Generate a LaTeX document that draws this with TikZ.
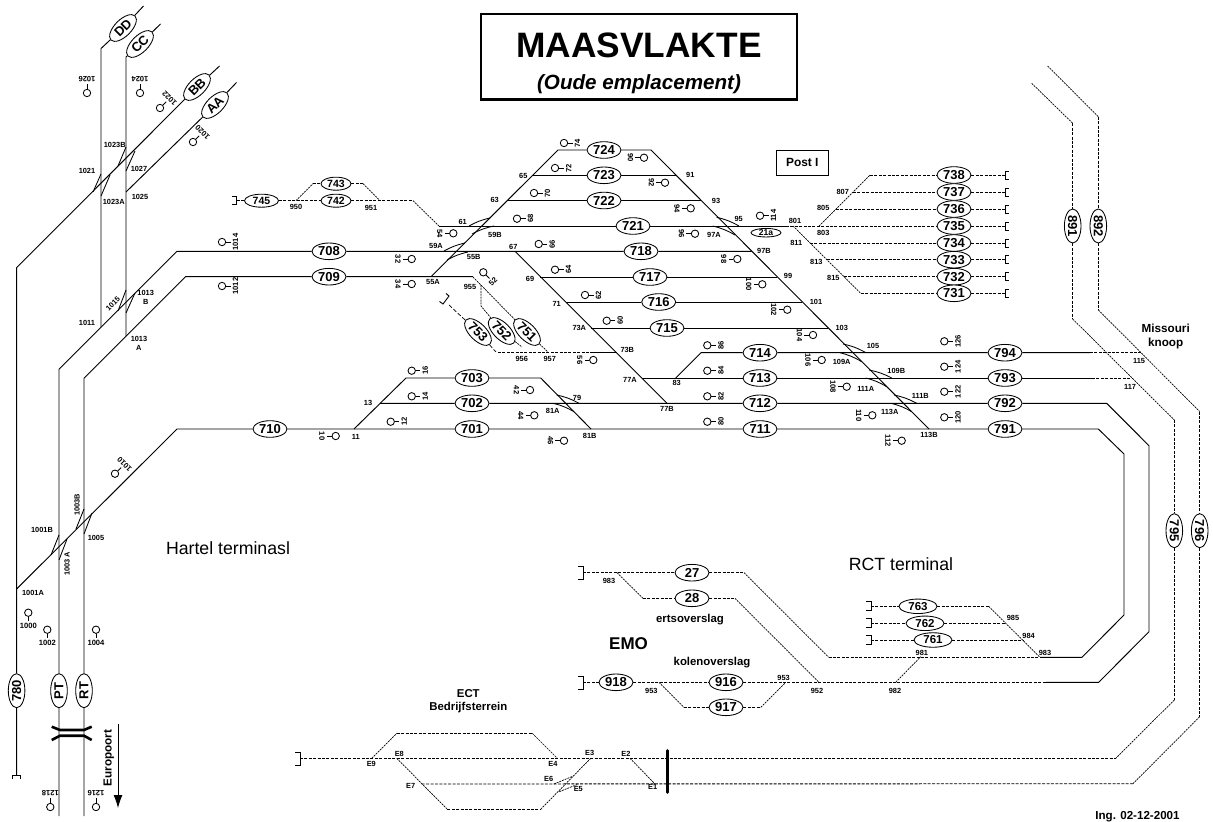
\documentclass[tikz,border=0pt]{standalone}
\usepackage{fontspec}
\setmainfont{Liberation Sans}
\usetikzlibrary{shapes.geometric,arrows.meta}
\newcommand{\fsz}[1]{\fontsize{#1}{#1}\selectfont}
\tikzset{
  trk/.style={line width=0.95pt,line join=miter},
  dsh/.style={line width=0.9pt,dash pattern=on 3pt off 1.4pt},
  fin/.style={line width=0.7pt,dash pattern=on 2pt off 0.9pt},
  sw/.style={line width=0.85pt},
  el/.style={ellipse,draw,line width=0.85pt,fill=white,inner sep=0pt,minimum width=34pt,minimum height=16.6pt,font=\bfseries\fsz{13}},
  els/.style={el,minimum width=30pt,minimum height=13pt,font=\bfseries\fsz{10.5}},
  elm/.style={el,minimum width=38pt,minimum height=14.5pt,font=\bfseries\fsz{11.5}},
  lb/.style={inner sep=0pt,font=\bfseries\fsz{7.4}},
  sc/.style={circle,draw,line width=0.85pt,fill=white,inner sep=0pt,minimum size=7.4pt},
  st/.style={inner sep=0pt,font=\bfseries\fsz{7.6}},
  txt/.style={inner sep=0pt,font=\bfseries\fsz{11.4}},
  big/.style={inner sep=0pt,font=\fsz{17.7}},
  bx/.style={draw,line width=0.9pt,inner sep=0pt},
  term/.style={line width=0.9pt}
}
\begin{document}
\begin{tikzpicture}[x=1pt,y=-1pt]
\useasboundingbox (0,0) rectangle (1213,822);
% ---------- titles
\node[draw,line width=2.4pt,minimum width=316pt,minimum height=85.5pt,inner sep=0pt] (title) at (639,56.7) {};
\node[inner sep=0pt,font=\bfseries\fsz{35.3}] (t1) at (639,45) {MAASVLAKTE};
\node[inner sep=0pt,font=\bfseries\itshape\fsz{20.6}] (t2) at (639,84) {(Oude emplacement)};
\node[bx,minimum width=51.5pt,minimum height=25pt,font=\bfseries\fsz{11.9}] (post) at (802.3,162.5) {Post I};
\node[big] (hartel) at (228,548) {Hartel terminasl};
\node[big] (rct) at (901,564) {RCT terminal};
\node[inner sep=0pt,font=\bfseries\fsz{17}] (emo) at (628.6,644) {EMO};
\node[txt] (erts) at (690,620) {ertsoverslag};
\node[txt] (kolen) at (712,663) {kolenoverslag};
\node[txt] (ect) at (468.3,693.3) {ECT};
\node[txt] (bedr) at (468.3,707.7) {Bedrijfsterrein};
\node[inner sep=0pt,font=\bfseries\fsz{11.7}] (miss) at (1165.7,328) {Missouri};
\node[inner sep=0pt,font=\bfseries\fsz{11.7}] (knoop) at (1165.7,343) {knoop};
\node[inner sep=0pt,font=\bfseries\fsz{11.6}] (ing) at (1137.5,816.7) {Ing. 02-12-2001};
\node[inner sep=0pt,rotate=90,font=\bfseries\fsz{11.7}] (euro) at (108.7,758) {Europoort};
% ---------- track ellipses
\foreach \n/\x/\y/\t in {DD/123/28/DD,CC/140/44/CC,BB/197/87/BB,AA/215/105/AA}
  \node[el,rotate=45] (n\n) at (\x,\y) {\t};
\foreach \n/\x/\y in {708/329/251.3,709/329/276.7,710/270/429,724/604/150,723/604/175.3,722/604/200.5,721/633/226,718/641/251.3,717/650/277,716/658.7/302,715/667/328,714/760/352.7,713/760/378,712/760/403.3,711/760/429,703/472/378,702/472/403.3,701/472/429,794/1005/352.7,793/1005/378,792/1005/403.3,791/1005/429,738/954/175,737/954/192,736/954/209,735/954/226,734/954/243,733/954/259.7,732/954/276.7,731/954/293.3,27/692/572.7,28/692/598.3,918/616/682.3,916/726/682.3,917/726/707.3}
  \node[el] (n\n) at (\x,\y) {\n};
\foreach \n/\x/\y in {745/261.5/200.7}
  \node[el,minimum height=13pt,font=\bfseries\fsz{10.5}] (n\n) at (\x,\y) {\n};
\foreach \n/\x/\y in {742/336/200.7,743/336/183.7}
  \node[els] (n\n) at (\x,\y) {\n};
\foreach \n/\x/\y in {763/918/606.3,762/925/623.3,761/933/640}
  \node[elm] (n\n) at (\x,\y) {\n};
\foreach \n/\x/\y in {753/478/332,752/501.7/331,751/527/332}
  \node[el,rotate=-45] (n\n) at (\x,\y) {\n};
\foreach \n/\x/\y in {780/16.6/690.7,PT/59/690.7,RT/84/690.7}
  \node[el,rotate=90] (n\n) at (\x,\y) {\n};
\foreach \n/\x/\y in {891/1072.7/226,892/1098.3/226,795/1174.3/530.7,796/1199.7/530.7}
  \node[el,rotate=-90] (n\n) at (\x,\y) {\n};
\node[el,minimum width=30pt,minimum height=8pt,font=\bfseries\fsz{8.5}] (n21a) at (766,232.7) {21a};
% ---------- solid tracks, left side
\draw[trk] (143.5,6) -- (nDD) -- (101,48.5) -- (101,327);
\draw[trk] (160.5,24) -- (nCC) -- (126,57) -- (126,336);
\draw[trk] (219.5,66) -- (nBB) -- (16.6,267.7) -- (n780) -- (16.6,775);
\draw[trk] (236.5,82.5) -- (nAA) -- (126,192);
\draw[term] (12.7,779) -- (12.7,775) -- (20.7,775) -- (20.7,779);
\draw[trk] (59,816) -- (nPT) -- (59,369.3) -- (177,251.3) -- (n708) -- (n718) -- (751.7,251.3);
\draw[trk] (84,816) -- (nRT) -- (84,378.3) -- (185.5,276.7) -- (n709) -- (473,276.7);
\draw[trk] (16.6,589) -- (177,429) -- (n710) -- (n701) -- (n711) -- (n791) -- (1098.3,429) -- (1124,454) -- (1124,615) -- (1082,657.3) -- (1040,657.3);
\draw[trk] (354,429) -- (406,378) -- (n703) -- (540.7,378) -- (591,429);
\draw[trk] (380,403.3) -- (n702) -- (n712) -- (n792) -- (1106.7,403.3) -- (1149,445.7) -- (1149,631.7) -- (1098.7,682.3) -- (1046,682.3);
% ---------- central yard
\draw[trk] (431,276.7) -- (558,150) -- (n724) -- (651,150) -- (929,429);
\draw[trk] (533,175.3) -- (n723) -- (676,175.3);
\draw[trk] (507,200.5) -- (n722) -- (701,200.5);
\draw[trk] (439,226) -- (n721) -- (786,226);
\draw[trk] (515,251.3) -- (667,403.3);
\draw[trk] (540,277) -- (n717) -- (777,277);
\draw[trk] (566,302) -- (n716) -- (802,302);
\draw[trk] (591,328) -- (n715) -- (828,328);
\draw[trk] (590,352) -- (617,352);
\draw[trk] (642,378) -- (n713) -- (n793) -- (1092,378);
\draw[trk] (675.7,378) -- (701,352.7) -- (n714) -- (n794) -- (1090,352.7);
% ---------- switches
\foreach \a/\b/\c/\d in {
  101/174/93/192, 110/175/101/196, 126/147/118/166, 135/151/126/171,
  126/290/118/311, 135/293/126/313, 59/535/51/555, 67/539/59/560,
  84/509/76/529, 92/513/84/534}
  \draw[sw] (\a,\b) -- (\c,\d);
\foreach \a/\b/\c/\d in {
  469/226/490/218, 472/234/494/226, 444/251/465/243, 447/260/468/252,
  716.7/217.3/739/226, 712.7/226/735/235, 843/344/866/352.7, 840/352.7/861.7/361.7,
  869/370/891.7/378, 865.7/378/886.7/386.7, 894/395/916.7/403.3, 891/403.3/911.7/411.7,
  556.7/395/579/403.3, 553/403.3/574/411.7}
  \draw[sw] (\a,\b) to[bend left=8] (\c,\d);
% ---------- dashed upper-left group
\draw[dsh] (237,200.7) -- (n745) -- (n742) -- (413,200.7);
\draw[fin] (413,200.7) -- (439,226);
\draw[dsh] (313,183.7) -- (n743) -- (363,183.7);
\draw[fin] (296,200.7) -- (313,183.7);
\draw[fin] (363,183.7) -- (380,200.7);
\draw[term] (232,196.7) -- (236,196.7) -- (236,204.7) -- (232,204.7);
% ---------- 75x group
\draw[fin] (473,277) -- (n751) -- (548,352);
\draw[dsh] (498,352) -- (590,352);
\draw[fin] (481,285) -- (481,306) -- (n752) -- (522,347);
\draw[fin,dash pattern=on 4pt off 2pt] (449,305) -- (n753) -- (496,352);
\draw[term] (439.5,301.5) -- (443,304) -- (449,296) -- (446,293.5);
% ---------- fan to the right of the yard
\draw[dsh] (786,226) -- (n735) -- (1005,226);
\draw[fin] (819,226) -- (870,175);
\draw[fin] (793,226) -- (860.7,293.3);
\foreach \n/\y/\s in {738/175/870,737/192/853,736/209/836,734/243/810,733/259.7/827,732/276.7/843.7,731/293.3/860.7}
  \draw[dsh] (\s,\y) -- (n\n) -- (1005,\y);
\foreach \y in {175,192,209,226,243,259.7,276.7,293.3}
  \draw[term] (1009,\y-4) -- (1005,\y-4) -- (1005,\y+4) -- (1009,\y+4);
% ---------- right outer tracks
\draw[fin] (1031.7,83.3) -- (1072.7,123.3);
\draw[dsh,line width=0.75pt] (1072.7,123.3) -- (n891) -- (1072.7,319);
\draw[fin] (1072.7,319) -- (1174.3,420);
\draw[dsh,line width=0.75pt] (1174.3,420) -- (n795) -- (1174.3,700);
\draw[fin] (1174.3,700) -- (1115.7,758.3);
\draw[fin] (1047.7,66) -- (1098.3,116.7);
\draw[dsh,line width=0.75pt] (1098.3,116.7) -- (n892) -- (1098.3,310);
\draw[fin] (1098.3,310) -- (1199.7,411.5);
\draw[dsh,line width=0.75pt] (1199.7,411.5) -- (n796) -- (1199.7,716.7);
\draw[fin] (1199.7,716.7) -- (1133,783.7);
\draw[dsh] (1090,352.7) -- (1141.7,352.7);
\draw[dsh] (1092,378) -- (1133,378);
% ---------- ECT
\draw[dsh] (300,758.3) -- (1115.7,758.3);
\draw[dsh] (421.7,784) -- (1133,783.7);
\draw[term] (295,752.7) -- (300,752.7) -- (300,765) -- (295,765);
\draw[fin] (371.7,758.3) -- (396.7,733.3);
\draw[dsh] (396.7,733.3) -- (532.3,733.3);
\draw[fin] (532.3,733.3) -- (557.3,758.3);
\draw[fin] (396.7,758.3) -- (447.3,809.3);
\draw[dsh] (447.3,809.3) -- (540.7,809.3);
\draw[fin] (540.7,809.3) -- (590.7,758.3);
\draw[fin] (630,758.3) -- (655,784);
\draw[fin] (554,784) -- (573.3,776);
\draw[fin] (559.3,791.7) -- (578.3,784);
\draw[line width=3pt,line cap=round] (667.3,750.5) -- (667.3,792.3);
% ---------- EMO and RCT
\draw[dsh] (583,572.7) -- (n27) -- (744,572.7);
\draw[term] (578,566.7) -- (583,566.7) -- (583,579) -- (578,579);
\draw[fin] (744,572.7) -- (828.6,657.3);
\draw[dsh] (828.6,657.3) -- (1040,657.3);
\draw[fin] (617,572.7) -- (643,598.3);
\draw[dsh] (643,598.3) -- (n28) -- (735,598.3);
\draw[fin] (735,598.3) -- (819,682.3);
\draw[dsh] (583,682.3) -- (n918) -- (n916) -- (1046,682.3);
\draw[term] (578,676) -- (583,676) -- (583,689) -- (578,689);
\draw[fin] (659,682.3) -- (684,707.3);
\draw[dsh] (684,707.3) -- (n917) -- (760.7,707.3);
\draw[fin] (760.7,707.3) -- (785.7,682.3);
\draw[fin] (895.7,682.3) -- (920.7,656.7);
\foreach \n/\y/\e in {763/606.3/988.6,762/623.3/1005.7,761/640/1023}{
  \draw[dsh] (871,\y) -- (n\n) -- (\e,\y);
  \draw[term] (866,\y-4.5) -- (871,\y-4.5) -- (871,\y+4.5) -- (866,\y+4.5);
}
\draw[fin] (988.6,606.3) -- (1040,657.3);
% ---------- bridge
\foreach \a/\b in {726.7/730,740/735.7}
  \draw[line width=2.6pt] (51.7,\a) -- (60,\b) -- (84,\b) -- (91.7,\a);
% ---------- Europoort arrow
\coordinate (ea) at (118,724.3);
\coordinate (eb) at (118,808);
\draw[line width=0.85pt,-{Latex[length=13pt,width=9pt]}] (ea) -- (eb);
% ---------- signals
\foreach \x/\y/\d/\t in {
 87/93/90/1026,140/93/90/1024,160/108/45/1022,193/142/45/1020,222/242/0/1014,222/286/0/1012,
 115/473.7/45/1010,335.7/436/180/10,28.3/612.7/-90/1000,47.3/629.7/-90/1002,96/629.7/-90/1004,
 50.3/807/90/1218,96/807/90/1216,564/143/0/74,555/168/0/72,534/193/0/70,517/218.7/0/68,
 538.7/244/0/66,555/269.7/0/64,585/295/0/62,606.7/320.7/0/60,707.3/345.3/0/86,707.3/370.7/0/84,
 707.3/396.3/0/82,707.3/421.7/0/80,411.7/370.7/0/16,411.7/396.3/0/14,390.7/421.7/0/12,
 644/157.7/180/90,665/182.7/180/92,690.7/208.3/180/94,695/233.7/180/96,737.3/259/180/98,
 762.3/284.3/180/100,787.3/309.7/180/102,813/335/180/104,821.7/360/180/106,846.7/386.7/180/108,
 872.3/415.3/180/110,901.7/440.7/180/112,760/215.7/0/114,944.3/341.3/0/126,944.3/366.7/0/124,
 944.3/391.7/0/122,944.3/417.3/0/120,453.3/233.3/180/54,411.7/259/180/32,411.7/284/180/34,
 483.3/272.3/-45/52,530/390/180/42,534.3/415.3/180/44,564/440.7/180/46,593.3/360/180/56}
{
  \node[sc] (s\t) at (\x,\y) {};
  \draw[line width=0.85pt] (s\t.\d) -- ++(\d:4.6pt);
  \path (s\t.center) ++(\d:13.6pt) node[st,rotate=\d+90] (l\t) {\t};
}
% ---------- labels
\foreach \x/\y/\t [count=\i] in {
 87/170.7/1021,114.7/145.3/1023B,139/168.7/1027,113.7/202.3/1023A,140/196.7/1025,87/322.7/1011,
 145.7/293.3/1013,145.7/302.3/B,139/339.3/1013,138.7/348.3/A,368/403.3/13,355.7/437.3/11,
 42/530.3/1001B,96/538.3/1005,33/593.3/1001A,296/206.5/950,371/207.5/951,
 523.3/175.7/65,494.7/200.3/63,462.7/221.7/61,495/234.7/59B,436/245.7/59A,473.7/257.3/55B,
 513.3/247.3/67,433/282.3/55A,470/287.3/955,530/278.7/69,556.7/303.7/71,579.3/328.3/73A,
 627.3/350.3/73B,521.7/359.3/956,549.7/359.3/957,630/380.3/77A,676.7/383.3/83,577/397.7/79,
 552.7/411.3/81A,667/409.3/77B,589.7/435.7/81B,690.3/175.3/91,716/200.7/93,738.7/219.3/95,
 714/235.3/97A,764/251.3/97B,788/276.3/99,816/301.7/101,841.7/327.7/103,873/345.7/105,
 841.7/362.3/109A,896.3/371.3/109B,865.7/388.7/111A,920.3/396.3/111B,889.7/411.7/113A,929/435.3/113B,
 795/221.3/801,823.3/232.7/803,823.3/208.3/805,842.7/191.7/807,796.3/242.7/811,816.3/261.7/813,833.3/278.3/815,
 1139/361/115,1130/386.7/117,
 609/580.7/983,651.4/690.7/953,783.6/677.7/953,817/690.7/952,895/690.7/982,921.8/652.7/981,
 1013/618/985,1028.6/635.7/984,1045/652.7/983,
 371.3/764.3/E9,399.3/754.3/E8,410.7/785.7/E7,548.7/779.3/E6,553/764.3/E4,589.7/752.7/E3,
 626/754.3/E2,652.7/787.3/E1,578.3/789.3/E5}
  \node[lb] (lb\i) at (\x,\y) {\t};
\node[lb,rotate=45] (lb1015) at (113,304) {1015};
\node[lb,rotate=90] (lb1003B) at (77,505) {1003B};
\node[lb,rotate=90] (lb1003A) at (67,563.7) {1003 A};
\end{tikzpicture}
\end{document}
